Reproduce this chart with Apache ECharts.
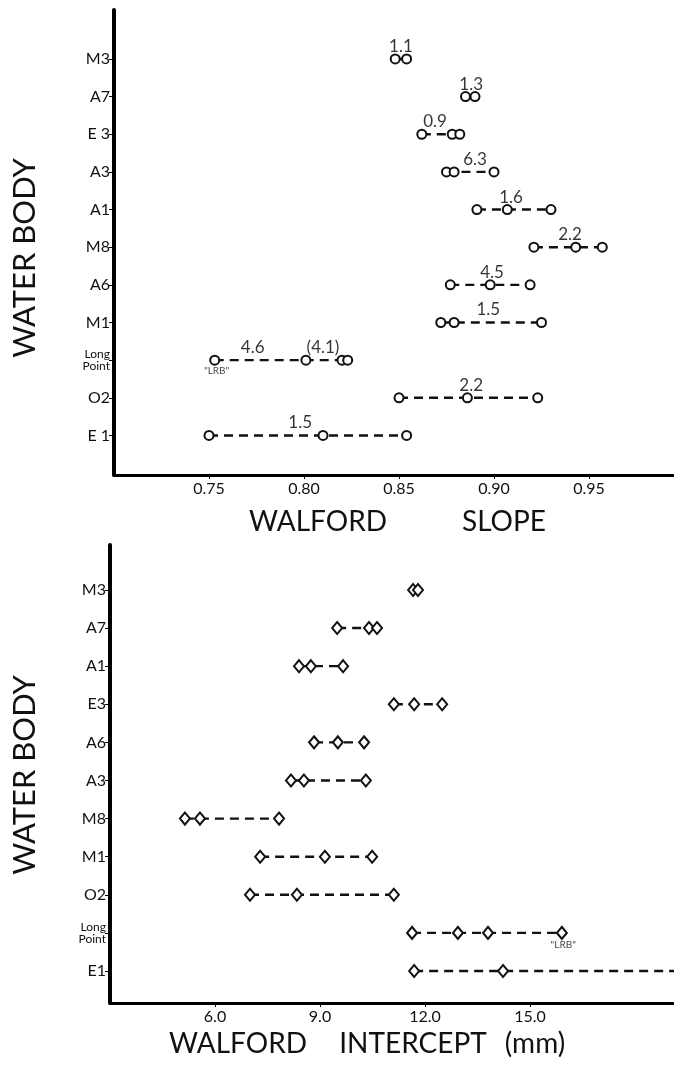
<!DOCTYPE html>
<html><head><meta charset="utf-8">
<script src="https://cdn.jsdelivr.net/npm/echarts@6/dist/echarts.min.js"></script>
<style>html,body{margin:0;padding:0;background:#fff;overflow:hidden}#c{width:674px;height:1067px}</style>
</head><body><div id="c"></div>
<script>
// ---- Top panel: Walford slope (categories listed top to bottom)
const slopeCats = ['M3','A7','E 3','A3','A1','M8','A6','M1','Long\nPoint','O2','E 1'];
const slopeVals = [
  [0.848,0.854],
  [0.885,0.890],
  [0.862,0.878,0.882],
  [0.875,0.879,0.900],
  [0.891,0.907,0.930],
  [0.921,0.943,0.957],
  [0.877,0.898,0.919],
  [0.872,0.879,0.925],
  [0.753,0.801,0.820,0.823],
  [0.850,0.886,0.923],
  [0.750,0.810,0.854]
];
const slopeNotes = ['1.1','1.3','0.9','6.3','1.6','2.2','4.5','1.5','4.6','2.2','1.5'];
const slopeNoteX = [0.851,0.888,0.869,0.890,0.909,0.940,0.899,0.897,0.773,0.888,0.798];
const slopeExtraNote = {text:'(4.1)', x:0.810, row:8};
const slopeTicks = [0.75,0.80,0.85,0.90,0.95];

// ---- Bottom panel: Walford intercept (mm)
const interCats = ['M3','A7','A1','E3','A6','A3','M8','M1','O2','Long\nPoint','E1'];
const interVals = [
  [11.66,11.80],
  [9.49,10.40,10.63],
  [8.40,8.74,9.66],
  [11.11,11.69,12.49],
  [8.83,9.51,10.26],
  [8.17,8.54,10.31],
  [5.14,5.57,7.83],
  [7.29,9.14,10.49],
  [7.00,8.34,11.11],
  [11.63,12.94,13.80,15.91],
  [11.69,14.23,19.60]
];
const interTicks = [6,9,12,15];
const lrbSlope = {x:0.754, row:8};
const lrbInter = {x:15.95, row:9};

const FONT = 'Lato';
const n = slopeCats.length;
const rowIdx = i => n - 1 - i;
const idxList = Array.from({length:n}, (_, i) => i);

function catLabel(cats){
  return function(v){
    const c = cats[n - 1 - Math.round(v)];
    if (c === undefined) return '';
    if (c.indexOf('\n') >= 0) { const p = c.split('\n'); return '{s|' + p[0] + '}\n{s|' + p[1] + '}'; }
    return c;
  };
}

const series = [];
function addRows(vals, gi, symbol, size){
  vals.forEach((row, i) => {
    series.push({
      type:'line', xAxisIndex:gi, yAxisIndex:gi,
      data: row.map(v => [v, rowIdx(i)]),
      symbol: symbol, symbolSize: size, showSymbol:true,
      lineStyle:{color:'#111', width:2.4, type:[9,6]},
      itemStyle:{color:'#111', borderColor:'#111', borderWidth:1.2},
      emphasis:{disabled:true}, animation:false, z:3
    });
  });
}
addRows(slopeVals, 0, 'emptyCircle', 9);
addRows(interVals, 1, 'emptyDiamond', [10,12]);

const noteData = slopeNotes.map((t, i) => ({value:[slopeNoteX[i], rowIdx(i)], label:{formatter:t}}));
noteData.push({value:[slopeExtraNote.x, rowIdx(slopeExtraNote.row)], label:{formatter:slopeExtraNote.text}});
series.push({
  type:'scatter', xAxisIndex:0, yAxisIndex:0, symbolSize:0, data:noteData,
  label:{show:true, position:'top', distance:4, color:'#000', fontFamily:FONT, fontSize:17},
  silent:true, animation:false, z:4
});
series.push({
  type:'scatter', xAxisIndex:0, yAxisIndex:0, symbolSize:0,
  data:[{value:[lrbSlope.x, rowIdx(lrbSlope.row)]}],
  label:{show:true, position:'bottom', distance:6, formatter:'"LRB"', color:'#111', fontFamily:FONT, fontSize:10},
  silent:true, animation:false
});
series.push({
  type:'scatter', xAxisIndex:1, yAxisIndex:1, symbolSize:0,
  data:[{value:[lrbInter.x, rowIdx(lrbInter.row)]}],
  label:{show:true, position:'bottom', distance:7, formatter:'"LRB"', color:'#111', fontFamily:FONT, fontSize:10},
  silent:true, animation:false
});

function yAx(gi, min, max, cats){
  return {
    type:'value', gridIndex:gi, min:min, max:max,
    axisLine:{show:true, onZero:false, lineStyle:{color:'#000', width:4}},
    axisTick:{show:true, customValues:idxList, length:5, lineStyle:{color:'#000', width:1}},
    axisLabel:{customValues:idxList, formatter:catLabel(cats), color:'#111', fontFamily:FONT, fontSize:16, margin:4,
      rich:{s:{fontFamily:FONT, fontSize:12, lineHeight:12, color:'#111'}}},
    splitLine:{show:false}
  };
}
function xAx(gi, min, max, ticks, digits){
  return {type:'value', gridIndex:gi, min:min, max:max,
    axisLine:{onZero:false, lineStyle:{color:'#000', width:3}},
    axisTick:{customValues:ticks, length:4, lineStyle:{color:'#000'}},
    axisLabel:{customValues:ticks, formatter:v => v.toFixed(digits), color:'#111', fontFamily:FONT, fontSize:16, margin:6},
    splitLine:{show:false}};
}
const titleStyle = (t, size) => ({text:t, fontFamily:FONT, fontSize:size, fill:'#111', textAlign:'center', textVerticalAlign:'middle'});

const option = {
  backgroundColor:'#fff',
  animation:false,
  grid:[
    {left:114, top:10, height:465, width:570, outerBoundsMode:'none', containLabel:false},
    {left:110, top:545, height:458, width:630, outerBoundsMode:'none', containLabel:false}
  ],
  xAxis:[ xAx(0, 0.70, 1.00, slopeTicks, 2), xAx(1, 3, 21, interTicks, 1) ],
  yAxis:[ yAx(0, -1.05, 11.3, slopeCats), yAx(1, -0.84, 11.18, interCats) ],
  graphic:[
    {type:'text', x:25, y:258, rotation:Math.PI/2, style:titleStyle('WATER BODY', 31)},
    {type:'text', x:25, y:775, rotation:Math.PI/2, style:titleStyle('WATER BODY', 31)},
    {type:'text', x:318, y:522, style:titleStyle('WALFORD', 28)},
    {type:'text', x:504, y:522, style:titleStyle('SLOPE', 28)},
    {type:'text', x:238, y:1044, style:titleStyle('WALFORD', 28)},
    {type:'text', x:413, y:1044, style:titleStyle('INTERCEPT', 28)},
    {type:'text', x:535, y:1044, style:titleStyle('(mm)', 28)}
  ],
  series:series
};
const chart = echarts.init(document.getElementById('c'), null, {renderer:'canvas'});
chart.setOption(option);
</script></body></html>
